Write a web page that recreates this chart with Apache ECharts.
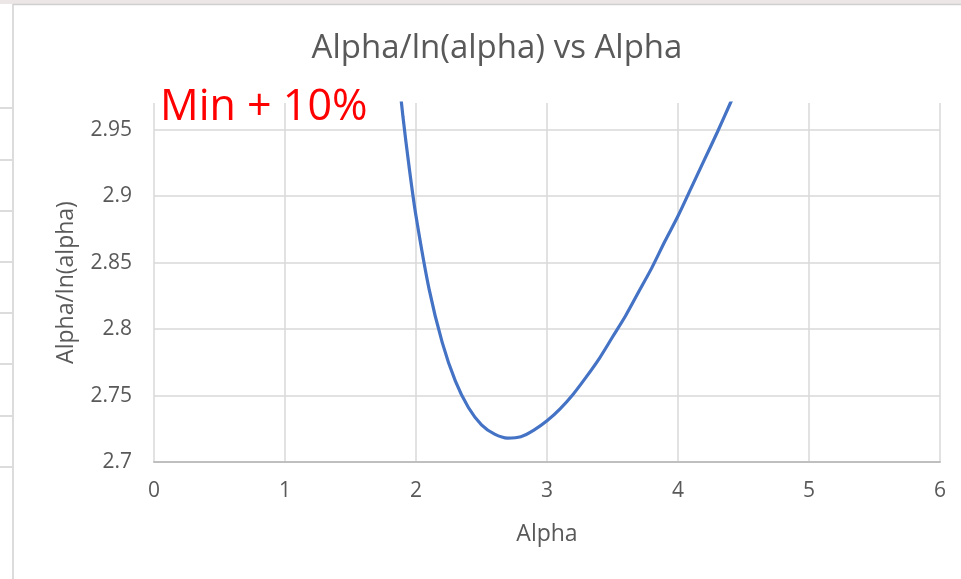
<!DOCTYPE html>
<html>
<head>
<meta charset="utf-8">
<script src="https://cdn.jsdelivr.net/npm/echarts@6/dist/echarts.min.js"></script>
<style>
html,body{margin:0;padding:0;background:#fff;}
#chart{width:961px;height:579px;}
</style>
</head>
<body>
<div id="chart"></div>
<script>
var alphaValues = [1.85, 1.9, 1.95, 2.0, 2.1, 2.2, 2.3, 2.4, 2.5, 2.6, 2.7, 2.8, 2.9, 3.0, 3.1, 3.2, 3.3, 3.4, 3.5, 3.6, 3.7, 3.8, 3.9, 4.0, 4.1, 4.2, 4.3, 4.4, 4.5];
var ratioValues = [3.007, 2.960, 2.920, 2.885, 2.830, 2.790, 2.761, 2.741, 2.728, 2.721, 2.718, 2.719, 2.724, 2.731, 2.740, 2.751, 2.764, 2.778, 2.794, 2.810, 2.828, 2.846, 2.866, 2.885, 2.906, 2.927, 2.948, 2.970, 2.992];
var titleText = 'Alpha/ln(alpha) vs Alpha';
var annotationText = 'Min + 10%';
var xName = 'Alpha';
var yName = 'Alpha/ln(alpha)';

var font = '"Open Sans", "Noto Sans", sans-serif';
var chart = echarts.init(document.getElementById('chart'), null, {renderer: 'canvas'});
var seriesData = alphaValues.map(function (a, i) { return [a, ratioValues[i]]; });

var rowLines = [108, 160, 211, 262, 313, 364, 416, 467];
var graphics = [
  {type: 'rect', shape: {x: 0, y: 0, width: 961, height: 4}, style: {fill: '#ece6e6'}, silent: true},
  {type: 'line', shape: {x1: 13, y1: 4, x2: 13, y2: 579}, style: {stroke: '#d0d0d0', lineWidth: 1.5}, silent: true},
  {type: 'line', shape: {x1: 13, y1: 4.5, x2: 961, y2: 4.5}, style: {stroke: '#d0d0d0', lineWidth: 1.5}, silent: true}
];
rowLines.forEach(function (y) {
  graphics.push({type: 'line', shape: {x1: 0, y1: y, x2: 12, y2: y}, style: {stroke: '#d0d0d0', lineWidth: 1.5}, silent: true});
});
graphics.push({
  type: 'text', left: 160, top: 86,
  style: {text: annotationText, fill: '#ff0000', font: '43px ' + font}
});

chart.setOption({
  animation: false,
  backgroundColor: '#fff',
  title: {
    text: titleText,
    left: 492, top: 27,
    textAlign: 'center',
    textStyle: {color: '#595959', fontSize: 33, fontWeight: 'normal', fontFamily: font}
  },
  graphic: graphics,
  grid: {left: 154, right: 21, top: 103, bottom: 117, containLabel: false},
  xAxis: {
    type: 'value', min: 0, max: 6, interval: 1,
    name: xName, nameLocation: 'middle', nameGap: 61,
    nameTextStyle: {color: '#595959', fontSize: 23, fontFamily: font},
    axisLine: {show: true, lineStyle: {color: '#bfbfbf', width: 2}},
    axisTick: {show: false},
    axisLabel: {color: '#595959', fontSize: 21, fontFamily: font, margin: 19},
    splitLine: {show: true, lineStyle: {color: '#d9d9d9', width: 1.5}}
  },
  yAxis: {
    type: 'value', min: 2.7, max: 2.97, interval: 0.05,
    name: yName, nameLocation: 'middle', nameGap: 76, nameRotate: 90,
    nameTextStyle: {color: '#595959', fontSize: 23, fontFamily: font},
    axisLine: {show: false},
    axisTick: {show: false},
    axisLabel: {color: '#595959', fontSize: 21, fontFamily: font, margin: 22, showMaxLabel: false},
    splitLine: {show: true, showMaxLine: false, lineStyle: {color: '#d9d9d9', width: 1.5}}
  },
  series: [{
    type: 'line',
    data: seriesData,
    smooth: 0.3,
    showSymbol: false,
    clip: true,
    lineStyle: {color: '#4472c4', width: 3.2}
  }]
});
</script>
</body>
</html>
